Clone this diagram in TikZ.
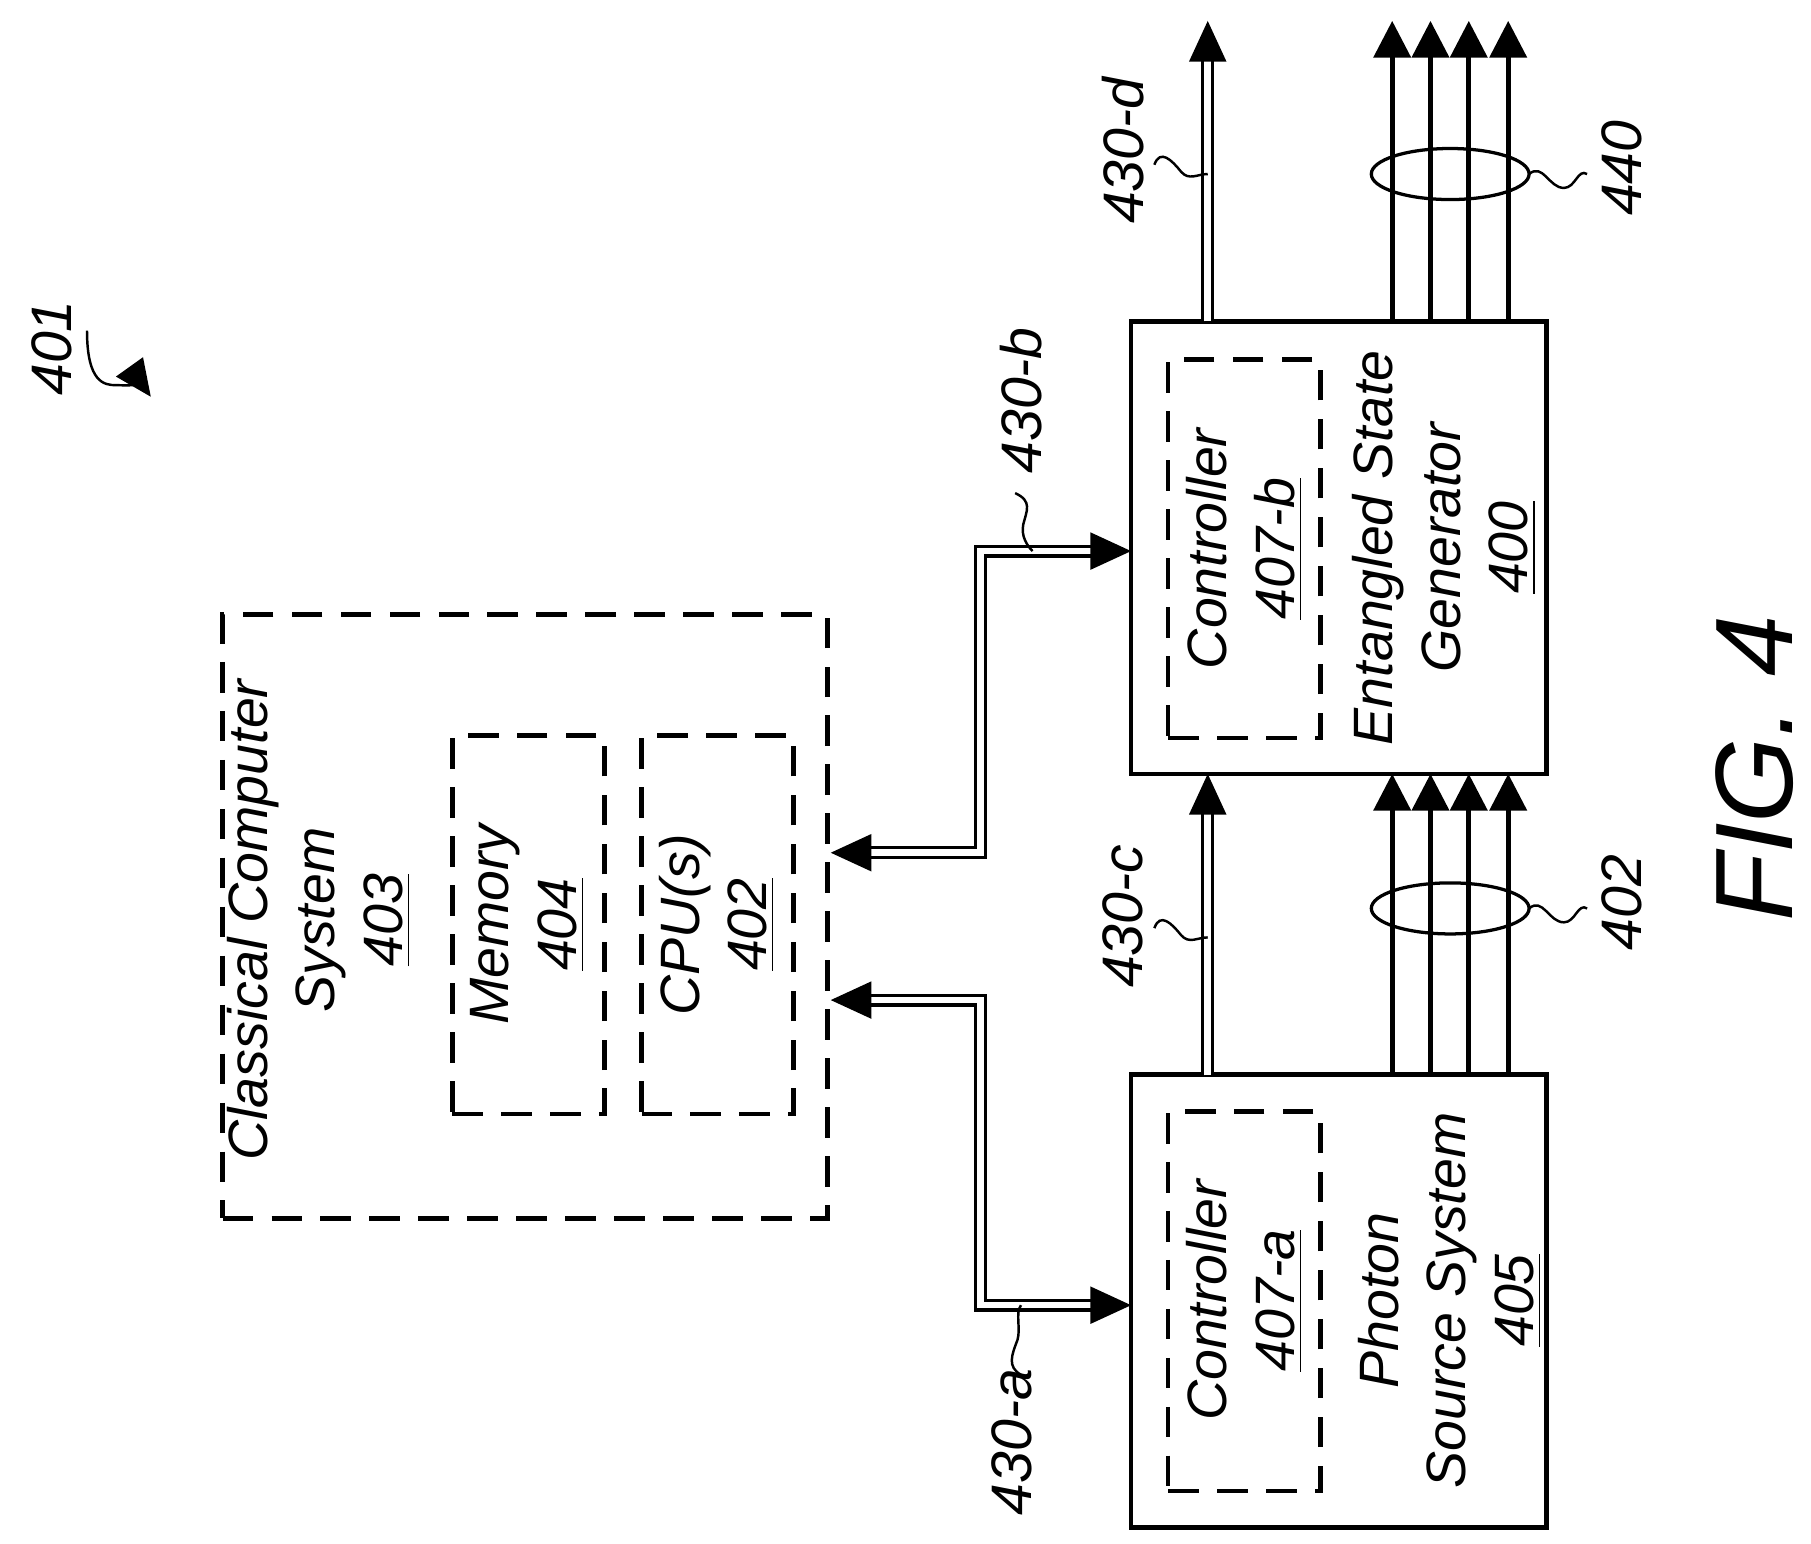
\documentclass[tikz,border=0pt]{standalone}
\usepackage{fontspec}
\setmainfont{Liberation Sans}
\usetikzlibrary{arrows.meta,positioning}
\tikzset{
  box/.style={draw,line width=1.2pt,minimum width=3.58cm,minimum height=3.9cm,inner sep=0pt},
  dbox/.style={draw,line width=1.1pt,dash pattern=on 7.5pt off 4.5pt,inner sep=0pt},
  txt/.style={rotate=90,align=center,font=\fontsize{13.6}{16.5}\selectfont\itshape,inner sep=0pt},
  lbl/.style={rotate=90,font=\fontsize{14}{16.5}\selectfont\itshape,inner sep=0pt},
  bus/.style={double,double distance=1.6pt,line width=0.8pt,-{Triangle[length=10pt,width=9pt]}},
  sig/.style={line width=1.2pt,-{Triangle[length=9pt,width=9pt]}},
  squig/.style={line width=0.6pt}
}
\begin{document}
\begin{tikzpicture}[x=0.01cm,y=-0.01cm]
\useasboundingbox (0,0) rectangle (1561,1330);
% boxes
\node[dbox,minimum width=5.21cm,minimum height=5.2cm] (ccs) at (452.5,790) {};
\node[dbox,minimum width=1.31cm,minimum height=3.26cm] (mem) at (455.5,797) {};
\node[dbox,minimum width=1.31cm,minimum height=3.26cm] (cpu) at (618.5,797) {};
\node[box] (esg) at (1154,472) {};
\node[dbox,minimum width=1.31cm,minimum height=3.26cm] (ctlb) at (1072.5,473) {};
\node[box] (pss) at (1154,1121.5) {};
\node[dbox,minimum width=1.31cm,minimum height=3.27cm] (ctla) at (1072.5,1121.5) {};
% texts
\node[txt] at (275,793) {Classical Computer\\System\\\underline{403}};
\node[txt] at (455,797) {Memory\\\underline{404}};
\node[txt] at (618,797) {CPU(s)\\\underline{402}};
\node[txt] at (1073,473) {Controller\\\underline{407-b}};
\node[txt] at (1245,472) {Entangled State\\Generator\\\underline{400}};
\node[txt] at (1073,1121) {Controller\\\underline{407-a}};
\node[txt] at (1250,1121) {Photon\\Source System\\\underline{405}};
% coordinates
\coordinate (b0) at (716,735);
\coordinate (b1) at (975,475);
\coordinate (a0) at (716,862);
\coordinate (a1) at (975,1125);
\coordinate (c0) at (1041,927);
\coordinate (c1) at (1041,667);
\coordinate (d0) at (1041,277);
\coordinate (d1) at (1041,18);
% buses
\draw[bus,{Triangle[length=10pt,width=9pt]}-{Triangle[length=10pt,width=9pt]}] (b0) -- (845,735) |- (b1);
\draw[bus,{Triangle[length=10pt,width=9pt]}-{Triangle[length=10pt,width=9pt]}] (a0) -- (845,862) |- (a1);
\draw[bus] (c0) -- (c1);
\draw[bus] (d0) -- (d1);
\foreach \x in {1200,1233,1266,1300}{
  \draw[sig] (\x,927) -- (\x,667);
  \draw[sig] (\x,277) -- (\x,18);
}
\draw[line width=0.8pt] (1250,783) ellipse (68 and 22);
\draw[line width=0.8pt] (1250,150) ellipse (68 and 22);
% labels
\node[lbl] (l401) at (45,300) {401};
\node[lbl] (l430d) at (968,130) {430-d};
\node[lbl] (l440) at (1398,145) {440};
\node[lbl] (l430b) at (880,345) {430-b};
\node[lbl] (l430c) at (968,790) {430-c};
\node[lbl] (l402) at (1398,778) {402};
\node[lbl] (l430a) at (872,1243) {430-a};
\node[lbl,font=\fontsize{27}{30}\selectfont\itshape] (fig) at (1512,662) {FIG. 4};
% leader squiggles
\draw[squig,-{Triangle[length=9pt,width=8pt]}] (75,285) .. controls (75,330) and (90,332) .. (100,332) .. controls (115,332) and (125,335) .. (130,342);
\draw[squig] (995,142) .. controls (1000,128) and (1010,138) .. (1018,148) .. controls (1025,156) and (1032,150) .. (1041,150);
\draw[squig] (995,800) .. controls (1000,786) and (1010,796) .. (1018,806) .. controls (1025,814) and (1032,808) .. (1041,808);
\draw[squig] (1318,150) .. controls (1330,140) and (1335,162) .. (1348,162) .. controls (1358,162) and (1360,145) .. (1368,150);
\draw[squig] (1318,783) .. controls (1330,773) and (1335,795) .. (1348,795) .. controls (1358,795) and (1360,778) .. (1368,783);
\draw[squig] (875,425) .. controls (890,432) and (885,440) .. (882,452) .. controls (880,462) and (885,470) .. (890,475);
\draw[squig] (880,1185) .. controls (868,1178) and (872,1168) .. (877,1155) .. controls (880,1145) and (875,1132) .. (880,1125);
\end{tikzpicture}
\end{document}
